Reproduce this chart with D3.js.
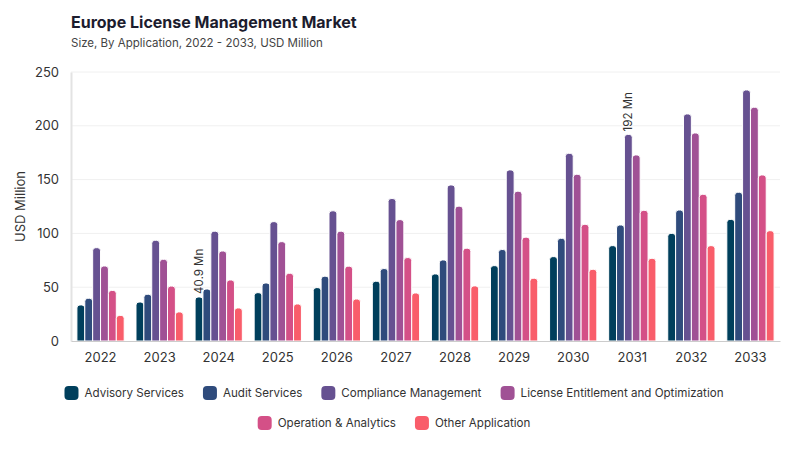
<!DOCTYPE html>
<html>
<head>
<meta charset="utf-8">
<script src="https://cdn.jsdelivr.net/npm/d3@7"></script>
<style>
  body { margin: 0; background: #fff; }
  svg { font-family: Inter, "DejaVu Sans", sans-serif; }
</style>
</head>
<body>
<div id="chart"></div>
<script>
// datos
var years = ["2022","2023","2024","2025","2026","2027","2028","2029","2030","2031","2032","2033"];
var seriesNames = ["Advisory Services", "Audit Services", "Compliance Management",
  "License Entitlement and Optimization", "Operation & Analytics", "Other Application"];
var advisory   = [33.5, 36.2, 40.9, 44.9, 49.6, 55.5, 62.3, 70.0, 78.4, 88.6, 100.0, 113.0];
var audit      = [39.7, 43.4, 48.3, 53.9, 60.2, 67.3, 75.3, 85.0, 95.4, 107.8, 121.7, 138.2];
var compliance = [86.7, 93.6, 102.0, 110.9, 121.0, 132.4, 145.0, 159.0, 174.4, 192.0, 211.0, 233.3];
var licenseEnt = [69.7, 75.9, 83.6, 92.3, 102.0, 112.8, 125.3, 139.2, 154.9, 172.9, 193.3, 217.2];
var operation  = [47.0, 51.0, 56.7, 62.9, 69.5, 77.5, 86.2, 96.5, 108.4, 121.4, 136.3, 154.3];
var other      = [23.8, 27.0, 30.7, 34.4, 39.0, 44.6, 51.2, 58.3, 66.6, 76.8, 88.6, 102.5];
var yTicks = [0, 50, 100, 150, 200, 250];
// etiquetas: [serie, año, texto]
var annotations = [[0, "2024", "40.9 Mn"], [2, "2031", "192 Mn"]];

var allSeries = [advisory, audit, compliance, licenseEnt, operation, other];
var colors = ["#003f5c", "#2f4b7c", "#665191", "#a05195", "#d45087", "#f95d6a"];

var width = 800, height = 450;
var margin = {top: 72, right: 20, bottom: 109, left: 71};

var svg = d3.select("#chart").append("svg")
  .attr("width", width)
  .attr("height", height);

var x0 = d3.scaleBand()
  .domain(years)
  .range([margin.left, width - margin.right])
  .paddingInner(0.2)
  .paddingOuter(0.1);

var x1 = d3.scaleBand()
  .domain(d3.range(seriesNames.length))
  .range([0, x0.bandwidth()])
  .padding(0);

var y = d3.scaleLinear()
  .domain([0, 250])
  .range([height - margin.bottom, margin.top]);

// título
svg.append("text")
  .attr("x", margin.left).attr("y", 28)
  .attr("font-size", 16).attr("font-weight", 700)
  .attr("fill", "#1c1c2e")
  .text("Europe License Management Market");
svg.append("text")
  .attr("x", margin.left).attr("y", 47)
  .attr("font-size", 11.5).attr("fill", "#444")
  .text("Size, By Application, 2022 - 2033, USD Million");

// rejilla
svg.append("g")
  .selectAll("line")
  .data(yTicks.slice(1))
  .enter().append("line")
  .attr("x1", margin.left).attr("x2", width - margin.right)
  .attr("y1", function(d) { return y(d); })
  .attr("y2", function(d) { return y(d); })
  .attr("stroke", "#f0f0f0");

// eje Y
var yAxis = svg.append("g")
  .attr("transform", "translate(" + margin.left + ",0)")
  .call(d3.axisLeft(y).tickValues(yTicks).tickSize(0).tickPadding(12));
yAxis.select(".domain").attr("stroke", "#e3e3e3").attr("stroke-width", 2);
yAxis.selectAll("text").attr("font-size", 13).attr("fill", "#333")
  .attr("font-family", "Inter, sans-serif");

svg.append("text")
  .attr("transform", "translate(25," + ((y(0) + y(250)) / 2) + ") rotate(-90)")
  .attr("text-anchor", "middle")
  .attr("font-size", 13).attr("fill", "#333")
  .text("USD Million");

// barras con esquinas superiores redondeadas
function barPath(x, yTop, w, h) {
  var r = Math.min(3, w / 2, h);
  return "M" + x + "," + (yTop + h) +
    "V" + (yTop + r) +
    "Q" + x + "," + yTop + " " + (x + r) + "," + yTop +
    "H" + (x + w - r) +
    "Q" + (x + w) + "," + yTop + " " + (x + w) + "," + (yTop + r) +
    "V" + (yTop + h) + "Z";
}

var groups = svg.append("g").selectAll("g")
  .data(years)
  .enter().append("g")
  .attr("transform", function(d) { return "translate(" + x0(d) + ",0)"; });

groups.selectAll("path")
  .data(function(d, i) {
    return allSeries.map(function(s, k) { return {k: k, v: s[i]}; });
  })
  .enter().append("path")
  .attr("d", function(d) {
    return barPath(x1(d.k), y(d.v), x1.bandwidth(), y(0) - y(d.v));
  })
  .attr("fill", function(d) { return colors[d.k]; })
  .attr("stroke", "#fff")
  .attr("stroke-width", 1);

// eje X
var xAxis = svg.append("g")
  .attr("transform", "translate(0," + y(0) + ")")
  .call(d3.axisBottom(x0).tickSize(0).tickPadding(12));
xAxis.select(".domain").attr("stroke", "#ccc");
xAxis.selectAll("text").attr("font-size", 13).attr("fill", "#333")
  .attr("font-family", "Inter, sans-serif");

// anotaciones
annotations.forEach(function(a) {
  var i = years.indexOf(a[1]);
  var v = allSeries[a[0]][i];
  var cx = x0(a[1]) + x1(a[0]) + x1.bandwidth() / 2;
  svg.append("text")
    .attr("transform", "translate(" + (cx + 4) + "," + (y(v) - 3) + ") rotate(-90)")
    .attr("font-size", 11.5).attr("fill", "#333")
    .text(a[2]);
});

// leyenda
var legend = svg.append("g");
var items = legend.selectAll("g")
  .data(seriesNames)
  .enter().append("g");
items.append("rect")
  .attr("width", 14).attr("height", 14)
  .attr("rx", 4).attr("y", -7)
  .attr("fill", function(d, i) { return colors[i]; });
items.append("text")
  .attr("x", 20).attr("dy", "0.35em")
  .attr("font-size", 11.6).attr("fill", "#333")
  .text(function(d) { return d; });

var maxW = 680, gap = 19, rows = [[]], rowW = [0];
items.each(function() {
  var w = this.getBBox().width;
  var r = rows.length - 1;
  var add = rows[r].length ? gap + w : w;
  if (rowW[r] + add > maxW) { rows.push([]); rowW.push(0); r++; add = w; }
  rows[r].push({node: this, w: w});
  rowW[r] += add;
});
rows.forEach(function(row, r) {
  var xPos = 394 - rowW[r] / 2;
  row.forEach(function(it) {
    d3.select(it.node).attr("transform", "translate(" + xPos + "," + (393 + r * 30) + ")");
    xPos += it.w + gap;
  });
});
</script>
</body>
</html>
